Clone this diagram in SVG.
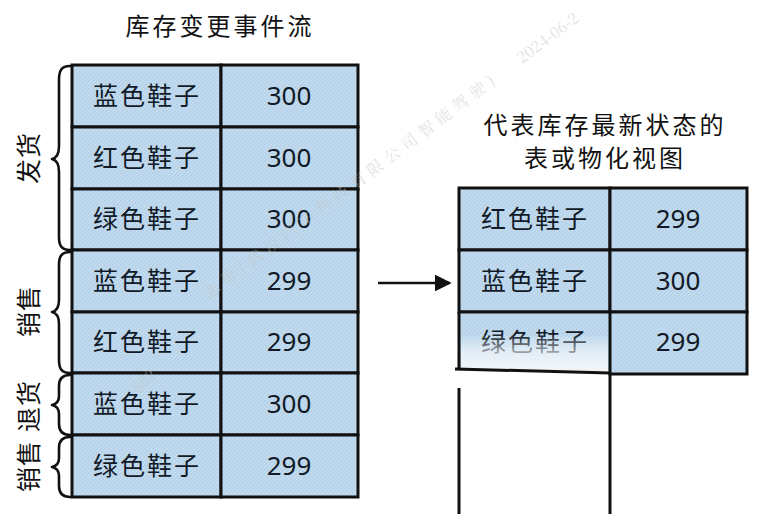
<svg xmlns="http://www.w3.org/2000/svg" width="771" height="514" viewBox="0 0 771 514">
<defs>
<pattern id="hatch" width="4" height="4" patternUnits="userSpaceOnUse">
<rect width="4" height="4" fill="#b8d4ea"/>
<path d="M0,4 L4,0" stroke="#c9dff1" stroke-width="1"/>
</pattern>
<linearGradient id="fade" x1="0" y1="0" x2="0" y2="1">
<stop offset="0" stop-color="#ffffff" stop-opacity="0"/>
<stop offset="0.45" stop-color="#ffffff" stop-opacity="0.55"/>
<stop offset="1" stop-color="#f4f6f8" stop-opacity="0.95"/>
</linearGradient>
<marker id="arrow" viewBox="0 0 10 10" refX="9" refY="5" markerWidth="6.5" markerHeight="6.5" markerUnits="strokeWidth" orient="auto">
<path d="M0,0 L10,5 L0,10 z" fill="#111"/>
</marker>
</defs>
<style>
.cell{fill:url(#hatch);stroke:#111;stroke-width:3}
.t{font-family:"Noto Sans CJK SC","Noto Sans",sans-serif;font-size:25px;fill:#111a26;text-anchor:middle;letter-spacing:2px}
.n{font-family:"Noto Sans","Noto Sans CJK SC",sans-serif;font-size:26px;fill:#111a26;text-anchor:middle}
.title{font-family:"Noto Sans CJK SC",sans-serif;font-size:24px;fill:#111;text-anchor:middle;letter-spacing:3px}
.side{font-family:"Noto Sans CJK SC",sans-serif;font-size:25px;fill:#111;text-anchor:middle;letter-spacing:1px}
.brace{fill:none;stroke:#111;stroke-width:2.6;stroke-linecap:round;stroke-linejoin:round}
.line{stroke:#111;stroke-width:3;fill:none}
.wm{font-family:"Noto Serif CJK SC","Noto Sans CJK SC","Liberation Serif",serif;font-size:16px;fill:#c4c4c4;fill-opacity:0.5}
</style>
<rect width="771" height="514" fill="#ffffff"/>

<g id="title-left"><text class="title" x="220" y="35">库存变更事件流</text></g>
<g id="title-right">
<text class="title" x="605" y="134">代表库存最新状态的</text>
<text class="title" x="605" y="167">表或物化视图</text>
</g>

<g id="event-stream">
<g id="e1"><rect class="cell" x="72" y="65" width="149" height="62"/><rect class="cell" x="221" y="65" width="137" height="62"/><text class="t" x="147" y="105">蓝色鞋子</text><text class="n" x="289" y="105">300</text></g>
<g id="e2"><rect class="cell" x="72" y="127" width="149" height="62"/><rect class="cell" x="221" y="127" width="137" height="62"/><text class="t" x="147" y="167">红色鞋子</text><text class="n" x="289" y="167">300</text></g>
<g id="e3"><rect class="cell" x="72" y="189" width="149" height="61"/><rect class="cell" x="221" y="189" width="137" height="61"/><text class="t" x="147" y="228">绿色鞋子</text><text class="n" x="289" y="228">300</text></g>
<g id="e4"><rect class="cell" x="72" y="250" width="149" height="62"/><rect class="cell" x="221" y="250" width="137" height="62"/><text class="t" x="147" y="290">蓝色鞋子</text><text class="n" x="289" y="290">299</text></g>
<g id="e5"><rect class="cell" x="72" y="312" width="149" height="61"/><rect class="cell" x="221" y="312" width="137" height="61"/><text class="t" x="147" y="351">红色鞋子</text><text class="n" x="289" y="351">299</text></g>
<g id="e6"><rect class="cell" x="72" y="373" width="149" height="62"/><rect class="cell" x="221" y="373" width="137" height="62"/><text class="t" x="147" y="413">蓝色鞋子</text><text class="n" x="289" y="413">300</text></g>
<g id="e7"><rect class="cell" x="72" y="435" width="149" height="62"/><rect class="cell" x="221" y="435" width="137" height="62"/><text class="t" x="147" y="475">绿色鞋子</text><text class="n" x="289" y="475">299</text></g>
</g>

<g id="braces">
<path class="brace" d="M70,66 C61,66 59,71 59,80 L59,146 C59,153 57,158 52,159 C57,160 59,165 59,172 L59,237 C59,245 61,250 70,250"/>
<path class="brace" d="M70,252 C61,252 59,257 59,265 L59,300 C59,307 57,311 52,312 C57,313 59,317 59,324 L59,360 C59,368 61,373 70,373"/>
<path class="brace" d="M70,375 C62,375 59,379 59,386 L59,396 C59,401 57,404 52,405 C57,406 59,409 59,414 L59,424 C59,431 62,435 70,435"/>
<path class="brace" d="M70,437 C62,437 59,441 59,448 L59,458 C59,463 57,466 52,467 C57,468 59,471 59,476 L59,486 C59,493 62,497 70,497"/>
</g>

<g id="labels">
<text class="side" transform="translate(29,158) rotate(-90)" x="0" y="9">发货</text>
<text class="side" transform="translate(29,311) rotate(-90)" x="0" y="9">销售</text>
<text class="side" transform="translate(29,406) rotate(-90)" x="0" y="9">退货</text>
<text class="side" transform="translate(29,466) rotate(-90)" x="0" y="9">销售</text>
</g>

<g id="state-table">
<g id="s1"><rect class="cell" x="459" y="188" width="151" height="62"/><rect class="cell" x="610" y="188" width="137" height="62"/><text class="t" x="535" y="228">红色鞋子</text><text class="n" x="678" y="228">299</text></g>
<g id="s2"><rect class="cell" x="459" y="250" width="151" height="62"/><rect class="cell" x="610" y="250" width="137" height="62"/><text class="t" x="535" y="290">蓝色鞋子</text><text class="n" x="678" y="290">300</text></g>
<g id="s3">
<rect x="459" y="312" width="151" height="59" fill="url(#hatch)"/>
<text class="t" x="535" y="351">绿色鞋子</text>
<rect x="461" y="334" width="147" height="37" fill="url(#fade)"/>
<path class="line" d="M459,312 L459,370 M455,369 L610,373 M459,312 L610,312"/>
<rect class="cell" x="610" y="312" width="137" height="62"/>
<text class="n" x="678" y="351">299</text>
</g>
<path class="line" d="M459,388 L459,514 M610,374 L610,514"/>
</g>

<g id="connectors">
<line x1="378" y1="283" x2="450" y2="283" stroke="#111" stroke-width="2.6" marker-end="url(#arrow)"/>
</g>

<g id="watermark">
<text class="wm" transform="translate(138,394) rotate(-42)" x="0" y="0">882</text>
<g transform="translate(209,300) rotate(-37)">
<text class="wm" x="0" y="0" textLength="360" lengthAdjust="spacing">志勇(武汉汽车科技有限公司智能驾驶)</text>
<text class="wm" x="392" y="0">2024-06-2</text>
</g>
</g>
</svg>
